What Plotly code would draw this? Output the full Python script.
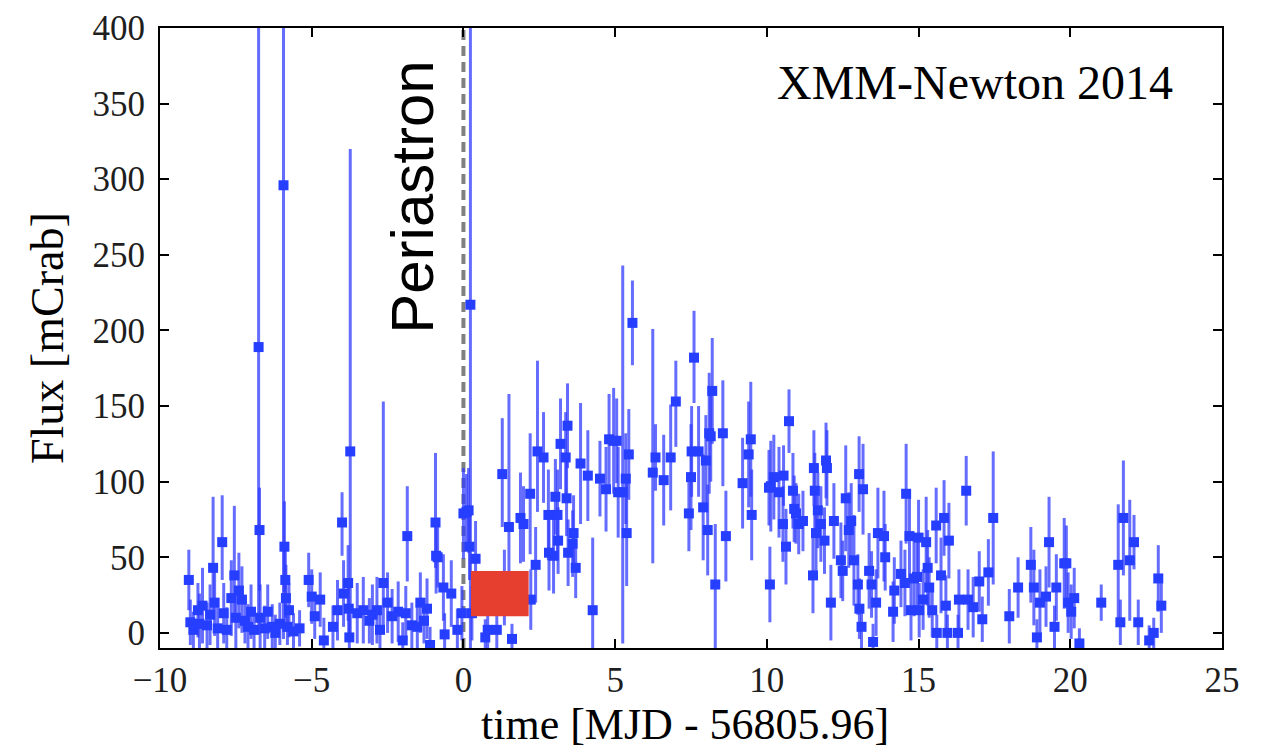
import plotly.graph_objects as go

# time [MJD - 56805.96], flux [mCrab], upper/lower errors
t = [-9.05, -9.0, -8.9, -8.75, -8.7, -8.6, -8.45, -8.35, -8.25, -8.2, -8.1, -7.95, -7.9, -7.8,
     -7.65, -7.55, -7.5, -7.4, -7.3, -7.2, -7.1, -7.0, -6.9, -6.75, -6.72, -6.7, -6.55, -6.45,
     -6.3, -6.2, -6.05, -5.93, -5.9, -5.87, -5.85, -5.75, -5.8, -5.6, -5.4, -5.1, -5.0, -4.9,
     -4.72, -4.6, -4.3, -4.15, -4.0, -3.95, -3.8, -3.78, -3.76, -3.73, -3.5, -3.3, -3.1, -3.0,
     -2.85, -2.75, -2.64, -2.5, -2.35, -2.15, -2.0, -1.9, -1.85, -1.7, -1.52, -1.42, -1.3, -1.2,
     -1.1, -0.92, -0.9, -0.85, -0.66, -0.62, -0.4, -0.2, -0.05, 0.0, 0.1, 0.17, 0.2, 0.23, 0.28,
     0.4, 0.72, 0.8, 1.1, 1.28, 1.35, 1.5, 1.6, 1.88, 1.98, 2.2, 2.22, 2.38, 2.44, 2.64, 2.8,
     2.82, 3.03, 2.97, 3.1, 3.12, 3.2, 3.37, 3.43, 3.4, 3.45, 3.63, 3.6, 3.7, 3.86, 4.1, 4.26,
     4.5, 4.7, 4.8, 4.95, 5.05, 5.1, 5.25, 5.35, 5.38, 5.45, 5.57, 6.24, 6.33, 6.6, 6.83, 7.0,
     7.43, 7.5, 7.52, 7.6, 7.75, 7.9, 7.99, 8.05, 8.1, 8.2, 8.15, 8.3, 8.55, 8.65, 9.2, 9.4,
     9.47, 9.5, 10.07, 10.1, 10.13, 10.23, 10.4, 10.53, 10.55, 10.63, 10.73, 10.86, 10.9, 10.96,
     11.05, 11.19, 11.52, 11.55, 11.58, 11.62, 11.68, 11.78, 11.95, 11.98, 11.9, 12.11, 12.21,
     12.44, 12.5, 12.6, 12.7, 12.78, 12.87, 13.04, 13.17, 13.05, 13.0, 13.12, 13.37, 13.45,
     13.5, 13.6, 13.66, 13.86, 13.9, 14.16, 14.2, 14.42, 14.59, 14.55, 14.7, 14.75, 14.85,
     14.95, 15.0, 15.02, 15.25, 15.3, 15.35, 15.15, 15.45, 15.58, 15.74, 15.84, 15.9, 16.0,
     15.6, 15.95, 16.3, 16.33, 16.57, 16.63, 16.8, 17.0, 17.1, 17.3, 17.46, 17.99, 18.28, 18.7,
     18.8, 18.9, 19.0, 19.2, 19.3, 19.54, 19.48, 19.8, 19.87, 19.93, 20.13, 20.03, 20.3, 21.02,
     21.58, 21.75, 21.65, 21.96, 22.1, 22.24, 22.6, 22.75, 22.9, 23.0]
flux = [35, 7, 2, 15, 6, 18, 5, 12, 43, 20, 3, 60, 13, 2,
        23, 38, 10, 28, 22, 8, 4, 14, 2, 189, 68, 10, 3, 14,
        4, 0, 6, 296, 57, 35, 23, 15, 4, 1, 3, 35, 24, 11,
        22, -5, 4, 15, 73, 26, 33, 16, -3, 120, 13, 15, 8, 12,
        15, 2, 33, 20, 11, 14, -5, 13, 64, 5, 4, 20, 8, 16,
        -8, 73, 51, 50, 30, -1, 26, 2, 13, 79, 80, 81, 57, 217, 13,
        49, -3, 2, 2, 105, 30, 70, -4, 76, 72, 92, 22, 45, 120, 116, 78,
        53, 90, 51, 78, 61, 125, 116, 137, 89, 53, 66, 59, 43, 112, 104, 15,
        102, 95, 128, 127, 127, 93, 93, 102, 66, 118, 205, 106, 116, 101, 116, 153,
        79, 103, 120, 182, 120, 83, 114, 68, 132, 160, 130, 32, 132, 64, 99, 118,
        128, 78, 96, 32, 97, 103, 93, 72, 104, 57, 140, 94, 82, 79,
        72, 74, 38, 109, 94, 66, 81, 72, 114, 109, 61, 20, 74,
        48, 41, 89, 68, 74, 48, 105, 95, 16, 32, 4, 41, 32,
        -6, 20, 66, 64, 50, 14, 28, 39, 92, 33, 64, 15, 36,
        37, 63, 15, 60, 43, 30, 22, 15, 71, 38, 76, 18, 61,
        0, 0, 0, 22, 94, 22, 17, 34, 9, 40, 76, 11, 30, 45,
        30, -3, 20, 24, 60, 30, 4, 46, 46, 20, 23, 14, -7, 20,
        45, 76, 7, 48, 60, 7, -5, 0, 36, 18]
err_up = [20, 15, 12, 18, 20, 25, 15, 20, 47, 22, 15, 31, 20, 15,
          25, 46, 20, 25, 22, 15, 15, 18, 12, 250, 28, 22, 15, 18,
          15, 12, 14, 200, 30, 25, 22, 18, 12, 12, 12, 18, 18, 15,
          18, 15, 14, 20, 20, 22, 25, 20, 15, 200, 20, 22, 15, 20,
          22, 14, 120, 20, 18, 20, 12, 18, 33, 15, 14, 20, 15, 20,
          12, 46, 25, 20, 22, 14, 22, 14, 18, 30, 25, 28, 22, 200, 18,
          25, 12, 12, 14, 37, 25, 88, 10, 30, 25, 40, 20, 25, 60, 30, 30,
          25, 25, 25, 30, 22, 30, 30, 28, 25, 22, 25, 22, 20, 40, 30, 48,
          25, 28, 30, 35, 28, 30, 150, 30, 35, 30, 28, 95, 22, 30, 35, 27,
          25, 35, 30, 31, 30, 35, 30, 30, 40, 35, 30, 40, 35, 30, 30, 35,
          38, 30, 25, 25, 30, 28, 30, 25, 20, 25, 21, 25, 22, 20,
          20, 20, 25, 25, 25, 25, 25, 25, 25, 25, 22, 25, 25,
          25, 20, 35, 25, 25, 30, 25, 30, 20, 20, 15, 25, 22,
          12, 22, 30, 30, 22, 20, 22, 22, 33, 22, 28, 20, 25,
          25, 25, 18, 30, 25, 20, 20, 18, 25, 25, 25, 20, 25,
          12, 12, 12, 20, 23, 20, 20, 20, 15, 22, 44, 18, 20, 25,
          25, 12, 22, 20, 30, 22, 14, 30, 25, 20, 20, 18, 10, 12,
          40, 38, 15, 40, 18, 15, 10, 10, 22, 18]
err_dn = [20, 15, 12, 18, 20, 25, 15, 20, 30, 22, 15, 25, 20, 15,
          25, 25, 20, 25, 22, 15, 15, 18, 12, 190, 40, 22, 15, 18,
          15, 12, 14, 300, 30, 25, 22, 18, 12, 12, 12, 18, 18, 15,
          18, 15, 14, 20, 22, 22, 25, 20, 15, 120, 20, 22, 15, 20,
          22, 14, 30, 20, 18, 20, 12, 18, 30, 15, 14, 20, 15, 20,
          12, 30, 25, 20, 22, 14, 22, 14, 18, 30, 25, 28, 22, 230, 18,
          25, 12, 12, 14, 35, 25, 30, 10, 30, 25, 40, 20, 25, 40, 30, 30,
          25, 25, 25, 30, 22, 30, 30, 28, 25, 22, 25, 22, 20, 40, 30, 45,
          25, 28, 30, 35, 28, 30, 100, 30, 35, 30, 28, 60, 22, 30, 35, 30,
          25, 35, 30, 30, 30, 35, 30, 30, 40, 35, 30, 45, 35, 30, 30, 35,
          38, 30, 25, 25, 30, 28, 30, 25, 20, 25, 21, 25, 22, 20,
          20, 20, 25, 25, 25, 25, 25, 25, 25, 25, 22, 25, 25,
          25, 20, 35, 25, 25, 30, 25, 30, 20, 20, 15, 25, 22,
          12, 22, 30, 30, 22, 20, 22, 22, 33, 22, 28, 20, 25,
          25, 25, 18, 30, 25, 20, 20, 18, 25, 25, 25, 20, 25,
          12, 12, 12, 20, 23, 20, 20, 20, 15, 22, 44, 18, 20, 25,
          25, 12, 22, 20, 30, 22, 14, 30, 25, 20, 20, 18, 10, 12,
          40, 38, 15, 40, 18, 15, 10, 10, 22, 18]

x_ticks = [-10, -5, 0, 5, 10, 15, 20, 25]
y_ticks = [0, 50, 100, 150, 200, 250, 300, 350, 400]

# highlighted observation window (red box)
box_t = [0.25, 2.15]
box_flux = [11, 41]

serif = "Liberation Serif"

fig = go.Figure()
fig.add_trace(go.Scatter(
    x=t, y=flux, mode="markers",
    marker=dict(symbol="square", size=10, color="rgb(38,62,255)", line=dict(width=0)),
    error_y=dict(type="data", symmetric=False, array=err_up, arrayminus=err_dn,
                 color="rgba(50,60,255,0.75)", thickness=3, width=0),
    showlegend=False,
))

fig.add_shape(type="line", x0=0, x1=0, y0=-10, y1=400, xref="x", yref="y",
              line=dict(color="rgb(128,128,128)", width=4, dash="10px,6px"), layer="below")
fig.add_shape(type="rect", x0=box_t[0], x1=box_t[1], y0=box_flux[0], y1=box_flux[1],
              xref="x", yref="y", fillcolor="#e63f2f", line=dict(width=0), layer="above")

fig.add_annotation(x=-1.68, y=288, xref="x", yref="y", text="Periastron", textangle=-90,
                   showarrow=False, font=dict(family="Liberation Sans", size=60, color="black"))
fig.add_annotation(x=16.85, y=364, xref="x", yref="y", text="XMM-Newton 2014",
                   showarrow=False, font=dict(family=serif, size=48, color="black"))
fig.add_annotation(x=0.5, y=0, xref="paper", yref="paper", text="time [MJD - 56805.96]",
                   showarrow=False, yanchor="middle", yshift=-76, xshift=-6,
                   font=dict(family=serif, size=44, color="black"))
fig.add_annotation(x=0, y=0.5, xref="paper", yref="paper", text="Flux [mCrab]",
                   showarrow=False, textangle=-90, xanchor="center", xshift=-113,
                   font=dict(family=serif, size=46, color="black"))

axis_common = dict(showgrid=False, zeroline=False, showline=True, linecolor="black",
                   linewidth=2, mirror="allticks", ticks="inside", ticklen=9,
                   tickwidth=1.5, tickcolor="black", automargin=False,
                   tickfont=dict(family=serif, size=35, color="rgb(30,30,30)"))
fig.update_xaxes(range=[-10, 25], tickvals=x_ticks, ticklabelstandoff=0, **axis_common)
fig.update_yaxes(range=[-10, 400], tickvals=y_ticks, ticklabelstandoff=6, **axis_common)

fig.update_layout(
    width=1269, height=751,
    margin=dict(l=160, r=47, t=28, b=103, autoexpand=False),
    plot_bgcolor="white", paper_bgcolor="white",
)

fig.write_html("out.html")
